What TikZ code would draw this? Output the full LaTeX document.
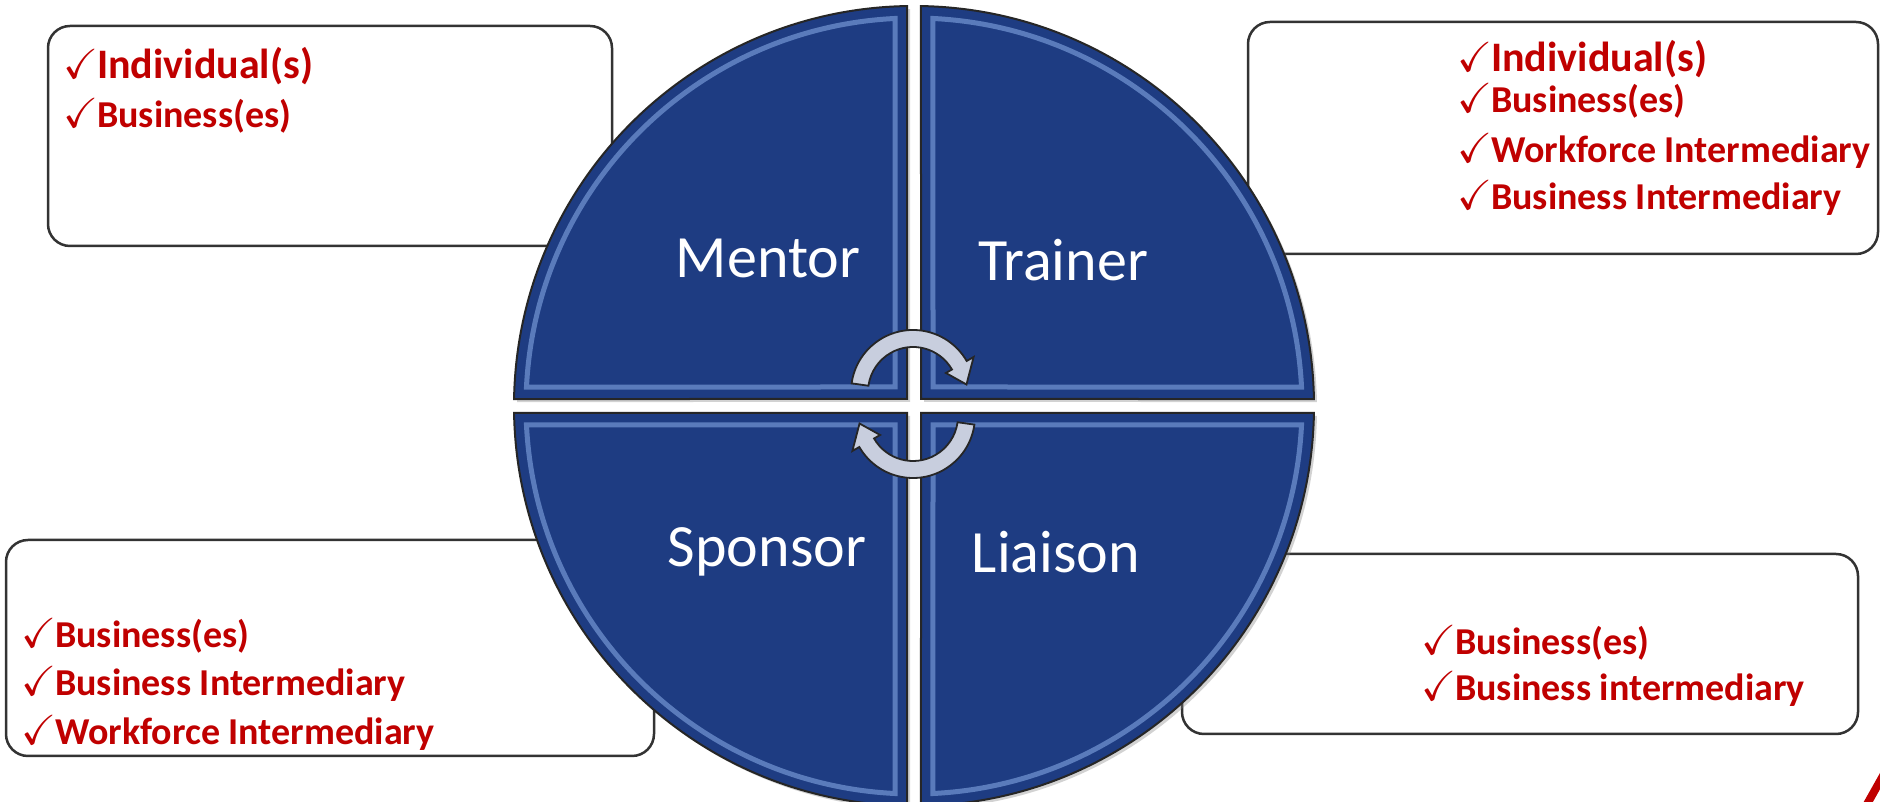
\documentclass[tikz,border=0pt]{standalone}
\usepackage{amssymb}
\usepackage{fontspec}
\setmainfont{Carlito}
\usepackage{xcolor}
\usetikzlibrary{positioning,calc,shadows}
\definecolor{quadblue}{RGB}{30,60,130}
\definecolor{bevelblue}{RGB}{140,175,235}
\definecolor{tickred}{RGB}{192,0,0}
\definecolor{arrowgray}{RGB}{200,206,222}
\newcommand{\tick}{{\fontsize{42}{42}\selectfont$\checkmark$}\hspace{-1pt}}
\newcommand{\bigitem}[1]{{\fontsize{42}{42}\selectfont #1}}
\tikzset{
    quadrant/.style={fill=quadblue, draw=black!85, line width=2pt, drop shadow={shadow xshift=3pt, shadow yshift=-3pt, opacity=0.35}},
    bevel/.style={draw=bevelblue, line width=5pt, opacity=0.55},
    role label/.style={text=white, font=\fontsize{60}{60}\selectfont},
    info box/.style={rectangle, rounded corners=22pt, draw=black!80, line width=2.5pt, fill=white, inner sep=0pt},
    tick item/.style={anchor=west, text=tickred, inner sep=0pt, font=\bfseries\fontsize{38}{40}\selectfont},
    turn arrow/.style={fill=arrowgray, draw=black!85, line width=1.8pt},
    turnarrow/.pic={
        \draw[turn arrow] (172:62) arc[start angle=172, end angle=30, radius=62]
            -- (30:70) -- (8:54) -- (30:38) -- (30:45)
            arc[start angle=30, end angle=172, radius=45] -- cycle;
    }
}

\begin{document}
\begin{tikzpicture}[x=1pt, y=1pt]
    \useasboundingbox (0,0) rectangle (1880,802);
    \fill[white] (0,0) rectangle (1880,802);

    % Boxes behind the circle
    \node[info box, minimum width=564pt, minimum height=220pt] (mentorbox) at (330,666) {};
    \node[info box, minimum width=630pt, minimum height=232pt] (trainerbox) at (1563,664) {};
    \node[info box, minimum width=648pt, minimum height=216pt] (sponsorbox) at (330,154) {};
    \node[info box, minimum width=676pt, minimum height=180pt] (liaisonbox) at (1520,158) {};

    % Four quadrants of the circle
    \begin{scope}[shift={(914,396)}]
        \foreach \a/\sx/\sy in {0/1/1, 90/-1/1, 180/-1/-1, 270/1/-1} {
            \draw[quadrant] (\sx*7,\sy*7) -- (\a+1:400)
                arc[start angle=\a+1, end angle=\a+89, radius=400] -- cycle;
            \draw[bevel] (\sx*19,\sy*19) -- (\a+2.8:388)
                arc[start angle=\a+2.8, end angle=\a+87.2, radius=388] -- cycle;
        }
    \end{scope}

    % Role labels
    \node[role label] (mentor) at (768,544) {Mentor};
    \node[role label] (trainer) at (1063,542) {Trainer};
    \node[role label] (sponsor) at (767,250) {Sponsor};
    \node[role label] (liaison) at (1056,250) {Liaison};

    % Turning arrows in the middle
    \pic at (913,410) {turnarrow};
    \pic[rotate=180] at (913,386) {turnarrow};

    % Mentor list
    \node[tick item] (mentor1) at (63,736) {\tick\bigitem{Individual(s)}};
    \node[tick item] (mentor2) at (63,686) {\tick Business(es)};

    % Trainer list
    \node[tick item] (trainer1) at (1457,743) {\tick\bigitem{Individual(s)}};
    \node[tick item] (trainer2) at (1457,701) {\tick Business(es)};
    \node[tick item] (trainer3) at (1457,651) {\tick Workforce Intermediary};
    \node[tick item] (trainer4) at (1457,604) {\tick Business Intermediary};

    % Sponsor list
    \node[tick item] (sponsor1) at (21,166) {\tick Business(es)};
    \node[tick item] (sponsor2) at (21,118) {\tick Business Intermediary};
    \node[tick item] (sponsor3) at (21,69) {\tick Workforce Intermediary};

    % Liaison list
    \node[tick item] (liaison1) at (1421,159) {\tick Business(es)};
    \node[tick item] (liaison2) at (1421,113) {\tick Business intermediary};

    % red stroke in the corner
    \draw[tickred, line width=8pt] (1866,-4) -- (1884,28);
\end{tikzpicture}
\end{document}
